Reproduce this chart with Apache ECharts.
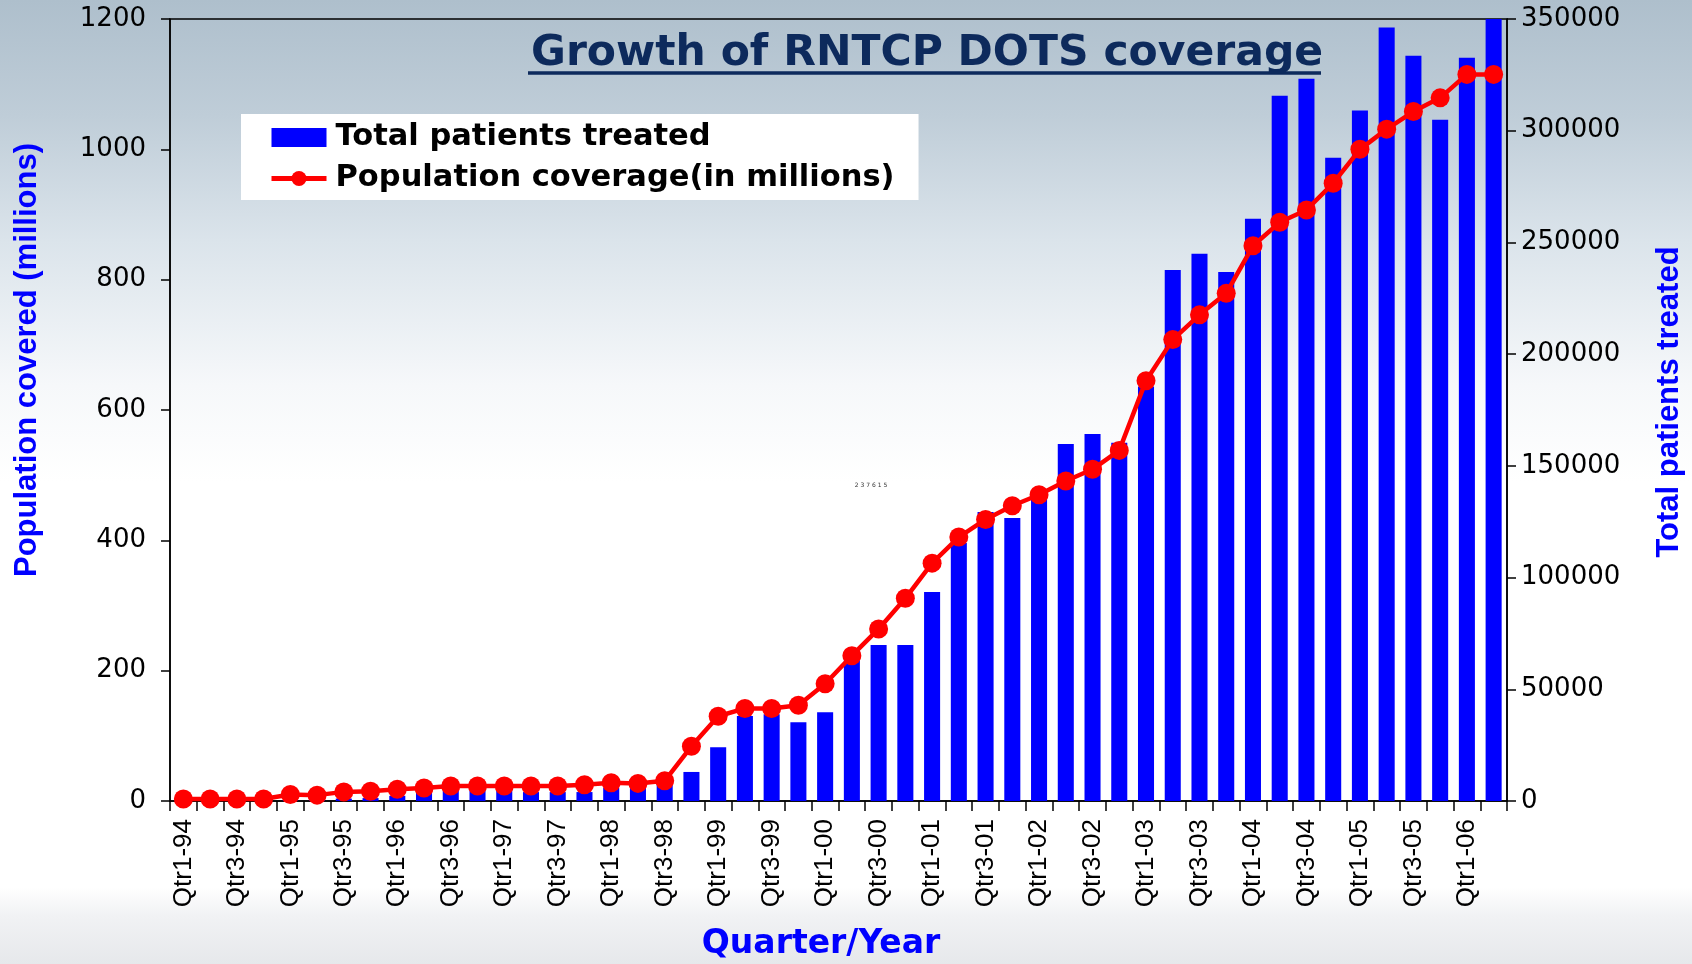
<!DOCTYPE html>
<html>
<head>
<meta charset="utf-8">
<title>Growth of RNTCP DOTS coverage</title>
<script src="https://cdn.jsdelivr.net/npm/echarts@6/dist/echarts.min.js"></script>
<style>
  html, body { margin: 0; padding: 0; }
  #chart { width: 1692px; height: 964px; }
</style>
</head>
<body>
<div id="chart"></div>
<script>
// quarters on the x axis
var quarters = [
  'Qtr1-94', 'Qtr2-94', 'Qtr3-94', 'Qtr4-94',
  'Qtr1-95', 'Qtr2-95', 'Qtr3-95', 'Qtr4-95',
  'Qtr1-96', 'Qtr2-96', 'Qtr3-96', 'Qtr4-96',
  'Qtr1-97', 'Qtr2-97', 'Qtr3-97', 'Qtr4-97',
  'Qtr1-98', 'Qtr2-98', 'Qtr3-98', 'Qtr4-98',
  'Qtr1-99', 'Qtr2-99', 'Qtr3-99', 'Qtr4-99',
  'Qtr1-00', 'Qtr2-00', 'Qtr3-00', 'Qtr4-00',
  'Qtr1-01', 'Qtr2-01', 'Qtr3-01', 'Qtr4-01',
  'Qtr1-02', 'Qtr2-02', 'Qtr3-02', 'Qtr4-02',
  'Qtr1-03', 'Qtr2-03', 'Qtr3-03', 'Qtr4-03',
  'Qtr1-04', 'Qtr2-04', 'Qtr3-04', 'Qtr4-04',
  'Qtr1-05', 'Qtr2-05', 'Qtr3-05', 'Qtr4-05',
  'Qtr1-06', 'Qtr2-06'
];
// bars, right axis
var patientsTreated = [
  0, 0, 0, 0,
  200, 400, 1100, 1300,
  2300, 4000, 4700, 4700,
  4700, 4000, 4000, 4000,
  6000, 5800, 8200, 13000,
  24100, 38000, 38800, 35300,
  39700, 63000, 69800, 69800,
  93500, 115500, 129300, 126700,
  136000, 159800, 164300, 160300,
  185500, 237700, 244900, 236800,
  260600, 315700, 323300, 287900,
  309000, 346200, 333600, 304900,
  332700, 351900
];
// line, left axis (millions)
var populationCovered = [
  3, 3, 3, 3,
  10, 9, 14, 15,
  18, 20, 23, 23,
  23, 23, 23, 25,
  28, 27, 31, 84,
  130, 142, 142, 147,
  180, 223, 264, 311,
  365, 405, 432, 453,
  470, 491, 509, 538,
  645, 708, 746, 779,
  852, 888, 907, 948,
  1000, 1031, 1058, 1079,
  1115, 1115
];
var leftAxisMax = 1200, leftAxisStep = 200;
var rightAxisMax = 350000, rightAxisStep = 50000;
var strayLabel = '2 3 7 6 1 5';

var tickFont = { color: '#000', fontFamily: 'DejaVu Sans', fontSize: 26 };
var blackLine = { color: '#000', width: 1.5 };
// plain numbers, no thousands separator
var plain = function (v) { return String(v); };

var chart = echarts.init(document.getElementById('chart'));
chart.setOption({
  animation: false,
  backgroundColor: {
    type: 'linear', x: 0, y: 0, x2: 0, y2: 1,
    colorStops: [
      { offset: 0, color: '#aebfcc' },
      { offset: 0.12, color: '#bfcdd8' },
      { offset: 0.25, color: '#dbe4eb' },
      { offset: 0.4, color: '#f6f8fa' },
      { offset: 0.5, color: '#ffffff' },
      { offset: 0.92, color: '#ffffff' },
      { offset: 0.95, color: '#f1f2f4' },
      { offset: 1, color: '#e6e8eb' }
    ]
  },
  title: {
    text: 'Growth of RNTCP DOTS coverage',
    left: 526,
    top: 27,
    textStyle: { fontFamily: 'DejaVu Sans', fontWeight: 'bold', fontSize: 42.5, color: '#0d2a5c' }
  },
  legend: {
    orient: 'vertical',
    left: 241,
    top: 114,
    backgroundColor: '#ffffff',
    padding: [8, 24, 6, 28],
    itemWidth: 55,
    itemHeight: 19,
    itemGap: 10,
    textStyle: { fontFamily: 'DejaVu Sans', fontWeight: 'bold', fontSize: 30.5, color: '#000', padding: [0, 0, 0, 4] },
    data: [
      { name: 'Total patients treated', icon: 'rect' },
      { name: 'Population coverage(in millions)', lineStyle: { width: 5 } }
    ]
  },
  grid: {
    left: 170, right: 185, top: 19, bottom: 163,
    show: true, borderColor: '#000', borderWidth: 1.5,
    outerBoundsMode: 'none'
  },
  xAxis: {
    type: 'category',
    data: quarters,
    axisLine: { lineStyle: blackLine },
    axisTick: { show: true, interval: 0, length: 10, lineStyle: blackLine },
    axisLabel: { interval: 1, rotate: 90, margin: 18, color: '#000', fontFamily: 'Liberation Sans', fontSize: 26 },
    splitLine: { show: false }
  },
  yAxis: [
    {
      type: 'value', position: 'left',
      min: 0, max: leftAxisMax, interval: leftAxisStep,
      axisLine: { show: true, lineStyle: blackLine },
      axisTick: { show: true, length: 9, lineStyle: blackLine },
      axisLabel: Object.assign({ margin: 24, formatter: plain }, tickFont),
      splitLine: { show: false }
    },
    {
      type: 'value', position: 'right',
      min: 0, max: rightAxisMax, interval: rightAxisStep,
      axisLine: { show: true, lineStyle: blackLine },
      axisTick: { show: true, length: 9, lineStyle: blackLine },
      axisLabel: Object.assign({ margin: 14, formatter: plain }, tickFont),
      splitLine: { show: false }
    }
  ],
  series: [
    {
      name: 'Total patients treated',
      type: 'bar',
      yAxisIndex: 1,
      barWidth: '60%',
      itemStyle: { color: '#0000ff' },
      data: patientsTreated
    },
    {
      name: 'Population coverage(in millions)',
      type: 'line',
      yAxisIndex: 0,
      symbol: 'circle',
      symbolSize: 19,
      showAllSymbol: true,
      itemStyle: { color: '#ff0000' },
      lineStyle: { color: '#ff0000', width: 4.5 },
      data: populationCovered
    }
  ],
  graphic: [
    // title underline
    { type: 'line', shape: { x1: 528, y1: 73, x2: 1321, y2: 73 }, style: { stroke: '#0d2a5c', lineWidth: 3.5 } },
    {
      type: 'text', x: 27, y: 360, rotation: Math.PI / 2,
      style: { text: 'Population covered (millions)', font: 'bold 31px "Liberation Sans"', fill: '#0000ff', align: 'center', verticalAlign: 'middle' }
    },
    {
      type: 'text', x: 1669, y: 402, rotation: Math.PI / 2,
      style: { text: 'Total patients treated', font: 'bold 31px "Liberation Sans"', fill: '#0000ff', align: 'center', verticalAlign: 'middle' }
    },
    {
      type: 'text', x: 821, y: 944,
      style: { text: 'Quarter/Year', font: 'bold 33px "DejaVu Sans"', fill: '#0000ff', align: 'center', verticalAlign: 'middle' }
    },
    {
      type: 'text', x: 871, y: 485,
      style: { text: strayLabel, font: '6px "DejaVu Sans"', fill: '#333', align: 'center', verticalAlign: 'middle' }
    }
  ]
});
</script>
</body>
</html>
